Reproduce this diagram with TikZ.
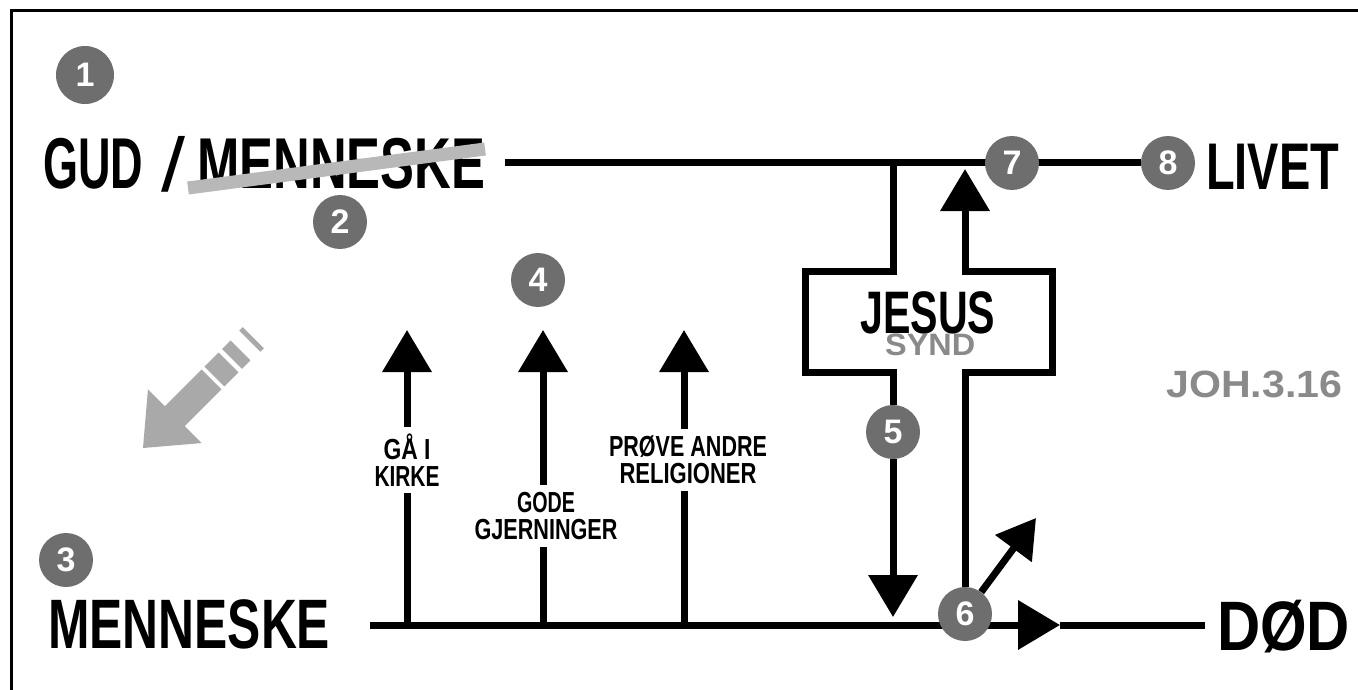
\documentclass[tikz,border=0pt]{standalone}
\usepackage{fontspec}
\usepackage{graphicx}
\setmainfont{Liberation Sans}
\usetikzlibrary{arrows.meta,backgrounds}
\definecolor{numgray}{HTML}{6E6E6E}
\definecolor{strikegray}{HTML}{B8B8B8}
\definecolor{arrgray}{HTML}{A9A9A9}
\definecolor{txtgray}{HTML}{8A8A8A}
\newcommand{\tx}[3]{\resizebox{#2pt}{\height}{\fontsize{#1pt}{#1pt}\selectfont\bfseries #3}}
\newcommand{\txl}[3]{\resizebox{#2pt}{\height}{\fontsize{#1pt}{#1pt}\selectfont #3}}
\begin{document}
\begin{tikzpicture}[x=1pt,y=-1pt,
  numc/.style={circle,fill=numgray,minimum size=54pt,inner sep=0pt,text=white,
    font=\fontsize{34pt}{34pt}\selectfont\bfseries},
  word/.style={inner sep=0pt,anchor=base west},
  heavy/.style={line width=7pt,draw=black},
  tipup/.style={-{Triangle[length=42pt,width=48pt]}},
  tipdiag/.style={-{Triangle[length=38pt,width=44pt]}},
  lab/.style={align=center,inner xsep=0pt,inner ysep=7pt,
    font=\fontsize{29pt}{27pt}\selectfont}
]
\useasboundingbox (0,0) rectangle (1358,690);

% ---- nodes ----
\node[numc,minimum size=58pt] (n1) at (85,75) {1};
\node[numc] (n2) at (340,222) {2};
\node[numc] (n3) at (66,560) {3};
\node[numc] (n4) at (538,280) {4};
\node[numc] (n5) at (893,432) {5};
\node[numc] (n6) at (965,614) {6};
\node[numc] (n7) at (1012,163) {7};
\node[numc] (n8) at (1168,163) {8};

\node[word] (gud) at (43,189) {\tx{72}{100}{GUD}};
\node[word] (slash) at (161,191) {\txl{76}{24}{/}};
\node[word] (mensup) at (197,189) {\tx{72}{288}{MENNESKE}};
\node[word] (livet) at (1206,190) {\tx{66}{133}{LIVET}};
\node[word] (mensdn) at (48,648) {\tx{70}{282}{MENNESKE}};
\node[word] (dod) at (1217,650) {\tx{70}{133}{DØD}};
\node[word,text=txtgray] (joh) at (1166,397) {\tx{38}{176}{JOH.3.16}};
\node[word,text=txtgray] (synd) at (885,355) {\tx{31}{90}{SYND}};
\node[word] (jesus) at (860,333) {\tx{60}{135}{JESUS}};

\node[lab] (l1) at (407,460) {\tx{29}{47}{GÅ I}\\\tx{29}{65}{KIRKE}};
\node[lab] (l2) at (546,516) {\tx{29}{58}{GODE}\\\tx{29}{143}{GJERNINGER}};
\node[lab] (l3) at (688,460) {\tx{29}{158}{PRØVE ANDRE}\\\tx{29}{137}{RELIGIONER}};

% strike-through bar over the first MENNESKE
\coordinate (s1) at (188,188);
\coordinate (s2) at (485,149);
\draw[line width=13pt,strikegray] (s1) -- (s2);

% ---- coordinates ----
\coordinate (tl) at (505,163);
\coordinate (jl) at (893,163);
\coordinate (bl) at (370,625);
\coordinate (rarr) at (1060,625);
\coordinate (br) at (1205,625);
\coordinate (a1b) at (407,625); \coordinate (a1t) at (407,330);
\coordinate (a2b) at (543,625); \coordinate (a2t) at (543,330);
\coordinate (a3b) at (684,625); \coordinate (a3t) at (684,330);
\coordinate (dtip) at (893,617);
\coordinate (utip) at (965,169);
\coordinate (diagtip) at (1036,518);

\begin{scope}[on background layer]
  \fill[white] (0,0) rectangle (1358,690);
  % frame
  \coordinate (f0) at (11,11);
  \coordinate (f1) at (1358,11);
  \coordinate (f2) at (11,690);
  \draw[line width=3pt] (f1) -- (f0) -- (f2);
  % big grey arrow
  \begin{scope}[shift={(143,448)},rotate=45]
    \fill[arrgray] (0,0) -- (45,38) -- (45,14) -- (97,14) -- (97,-14)
      -- (45,-14) -- (45,-38) -- cycle;
    \fill[arrgray] (101,-14) rectangle (121,14);
    \fill[arrgray] (126,-14) rectangle (138,14);
    \fill[arrgray] (151,-15) rectangle (156,15);
  \end{scope}
  % top and bottom lines
  \draw[heavy] (tl) -- (n8);
  \draw[heavy,tipup] (bl) -- (rarr);
  \draw[heavy] (rarr) -- (br);
  % three attempts
  \draw[heavy] (a1b) -- (a1b |- l1.south);
  \draw[heavy,tipup] (a1t |- l1.north) -- (a1t);
  \draw[heavy] (a2b) -- (a2b |- l2.south);
  \draw[heavy,tipup] (a2t |- l2.north) -- (a2t);
  \draw[heavy] (a3b) -- (a3b |- l3.south);
  \draw[heavy,tipup] (a3t |- l3.north) -- (a3t);
  % Jesus cross
  \draw[heavy] (jl) -- (893,271) -- (805,271) -- (805,372) -- (893,372) -- (n5);
  \draw[heavy,tipup] (n5) -- (dtip);
  \draw[heavy,tipup] (n6) -- (965,372) -- (1052,372) -- (1052,271) -- (965,271) -- (utip);
  \draw[heavy,tipdiag] (n6) -- (diagtip);
\end{scope}
\end{tikzpicture}
\end{document}
